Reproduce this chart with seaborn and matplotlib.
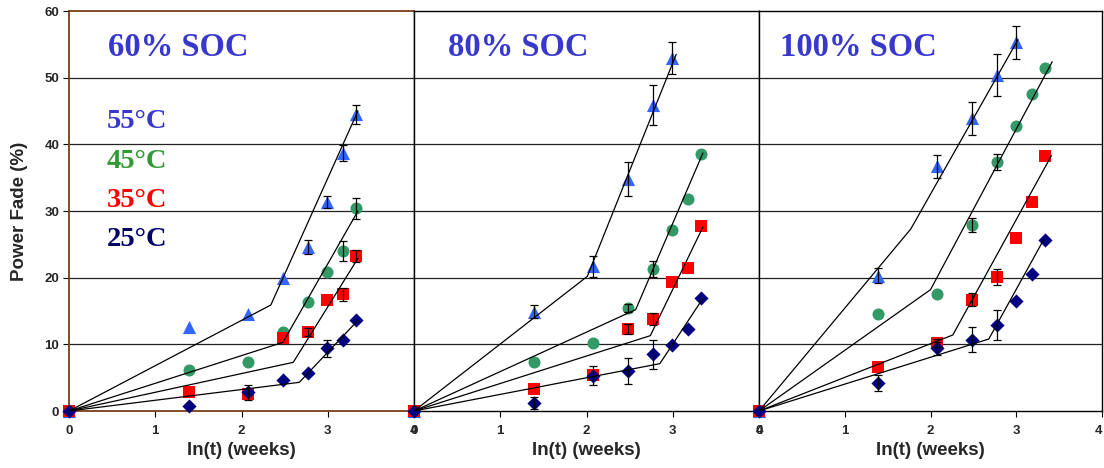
import numpy as np
import pandas as pd
import matplotlib
matplotlib.use("Agg")
import matplotlib.pyplot as plt
import seaborn as sns

# ---------------- data ----------------
LN_T = [0.0, 1.386, 2.079, 2.485, 2.773, 2.996, 3.178, 3.332]
TEMPS = ["55°C", "45°C", "35°C", "25°C"]
SOC_LABELS = ["60% SOC", "80% SOC", "100% SOC"]
X_TICKS = [0, 1, 2, 3, 4]
Y_TICKS = [0, 10, 20, 30, 40, 50, 60]

# measured power fade (%)
FADE_60_55 = [0, 12.6, 14.5, 20.0, 24.6, 31.3, 38.7, 44.5]
FADE_60_45 = [0, 6.1, 7.3, 11.9, 16.4, 20.8, 24.0, 30.4]
FADE_60_35 = [0, 2.8, 2.5, 10.9, 11.8, 16.6, 17.5, 23.2]
FADE_60_25 = [0, 0.8, 2.8, 4.7, 5.7, 9.4, 10.6, 13.6]

FADE_80_55 = [0, 14.9, 21.7, 34.8, 45.9, 52.9]
FADE_80_45 = [0, 7.3, 10.2, 15.5, 21.3, 27.1, 31.8, 38.5]
FADE_80_35 = [0, 3.3, 5.4, 12.3, 13.8, 19.4, 21.5, 27.7]
FADE_80_25 = [0, 1.2, 5.3, 6.0, 8.5, 9.9, 12.3, 16.9]

FADE_100_55 = [0, 20.3, 36.7, 43.9, 50.4, 55.3]
FADE_100_45 = [0, 14.6, 17.6, 27.9, 37.3, 42.8, 47.5, 51.5]
FADE_100_35 = [0, 6.6, 10.2, 16.7, 20.1, 25.9, 31.4, 38.3]
FADE_100_25 = [0, 4.2, 9.4, 10.7, 12.9, 16.5, 20.6, 25.7]

# error bars (+/-, 0 = none)
ERR_60_55 = [0, 0, 0, 0, 1.1, 0.9, 1.2, 1.4]
ERR_60_45 = [0, 0, 0, 0, 0, 0, 1.5, 1.6]
ERR_60_35 = [0, 0, 0, 0, 0.6, 0, 1.0, 0.9]
ERR_60_25 = [0, 0, 1.1, 0, 0, 1.3, 0, 0]

ERR_80_55 = [0, 1.0, 1.6, 2.5, 3.0, 2.4]
ERR_80_45 = [0, 0, 0, 0.6, 1.2, 0, 0, 0]
ERR_80_35 = [0, 0, 0, 0.7, 0.9, 0, 0, 0]
ERR_80_25 = [0, 0.9, 1.4, 1.9, 2.2, 0, 0, 0]

ERR_100_55 = [0, 1.1, 1.7, 2.5, 3.1, 2.5]
ERR_100_45 = [0, 0, 0, 1.0, 1.2, 0, 0, 0]
ERR_100_35 = [0, 0, 0.6, 1.0, 1.2, 0, 0, 0]
ERR_100_25 = [0, 1.2, 1.0, 1.9, 2.3, 0, 0, 0]

# piecewise-linear model fits: (x, y) nodes
FIT_60_55 = ([0, 2.34, 3.35], [0, 15.9, 45.0])
FIT_60_45 = ([0, 2.48, 3.35], [0, 10.3, 30.0])
FIT_60_35 = ([0, 2.60, 3.35], [0, 7.3, 22.9])
FIT_60_25 = ([0, 2.67, 3.35], [0, 4.3, 13.6])

FIT_80_55 = ([0, 2.01, 3.04], [0, 20.2, 53.5])
FIT_80_45 = ([0, 2.57, 3.35], [0, 15.2, 38.7])
FIT_80_35 = ([0, 2.74, 3.35], [0, 11.3, 27.6])
FIT_80_25 = ([0, 2.85, 3.35], [0, 7.1, 16.9])

FIT_100_55 = ([0, 1.77, 3.02], [0, 27.3, 55.7])
FIT_100_45 = ([0, 2.00, 3.42], [0, 18.2, 52.4])
FIT_100_35 = ([0, 2.26, 3.41], [0, 11.4, 38.3])
FIT_100_25 = ([0, 2.68, 3.32], [0, 10.8, 25.7])

PANELS = [
    ([FADE_60_55, FADE_60_45, FADE_60_35, FADE_60_25],
     [ERR_60_55, ERR_60_45, ERR_60_35, ERR_60_25],
     [FIT_60_55, FIT_60_45, FIT_60_35, FIT_60_25]),
    ([FADE_80_55, FADE_80_45, FADE_80_35, FADE_80_25],
     [ERR_80_55, ERR_80_45, ERR_80_35, ERR_80_25],
     [FIT_80_55, FIT_80_45, FIT_80_35, FIT_80_25]),
    ([FADE_100_55, FADE_100_45, FADE_100_35, FADE_100_25],
     [ERR_100_55, ERR_100_45, ERR_100_35, ERR_100_25],
     [FIT_100_55, FIT_100_45, FIT_100_35, FIT_100_25]),
]

# ---------------- style ----------------
MARKER_COLORS = {"55°C": "#3366FF", "45°C": "#339966", "35°C": "#FF0000", "25°C": "#000080"}
TEXT_COLORS = {"55°C": "#3838CC", "45°C": "#339933", "35°C": "#FF0000", "25°C": "#000066"}
MARKERS = {"55°C": "^", "45°C": "o", "35°C": "s", "25°C": "D"}
SIZES = {"55°C": 90, "45°C": 75, "35°C": 78, "25°C": 52}
SOC_COLOR = "#3838CC"
BROWN = "#7A3E18"

sns.set_theme(style="white")
plt.rcParams["font.family"] = ["Liberation Sans", "DejaVu Sans"]

fig = plt.figure(figsize=(11.04, 4.68), dpi=100)
W, H = 1104.0, 468.0
left0, bottom, pw, ph = 69 / W, 1 - 411 / H, 345 / W, 400 / H
widths = [pw, pw, 343 / W]
axes = [fig.add_axes([left0 + i * pw, bottom, widths[i], ph]) for i in range(3)]

SERIF = ["Liberation Serif", "DejaVu Serif"]
soc_x = [0.45, 0.39, 0.25]

for i, (ax, (fades, errs, fits)) in enumerate(zip(axes, PANELS)):
    ax.set_xlim(0, 4)
    ax.set_ylim(0, 60)
    ax.set_facecolor("white")
    for y in Y_TICKS[1:-1]:
        ax.axhline(y, color="#222222", lw=0.9, zorder=0)

    for temp, fade, err, (fx, fy) in zip(TEMPS, fades, errs, fits):
        n = len(fade)
        df = pd.DataFrame({"ln_t": LN_T[:n], "fade": fade, "err": err})
        sns.scatterplot(data=df, x="ln_t", y="fade", marker=MARKERS[temp],
                        color=MARKER_COLORS[temp], s=SIZES[temp], linewidth=0,
                        ax=ax, zorder=3, clip_on=False, legend=False)
        e = df[df["err"] > 0]
        ax.errorbar(e["ln_t"], e["fade"], yerr=e["err"], fmt="none",
                    ecolor="black", elinewidth=0.9, capsize=2.8, capthick=0.9,
                    zorder=4)
        fdf = pd.DataFrame({"x": fx, "y": fy})
        sns.lineplot(data=fdf, x="x", y="y", sort=False, estimator=None,
                     color="black", lw=0.9, ax=ax, zorder=5)

    ax.text(soc_x[i], 54.6, SOC_LABELS[i], color=SOC_COLOR, fontsize=23.5,
            fontweight="bold", family=SERIF, va="center", ha="left")

    ax.set_xticks(X_TICKS)
    ax.set_xticklabels([str(t) for t in X_TICKS], fontsize=9.5, fontweight="bold")
    ax.tick_params(axis="x", bottom=True, length=4, width=0.8, color="black", pad=6)
    ax.set_xlabel("ln(t) (weeks)", fontsize=13.5, fontweight="bold", labelpad=4)
    ax.set_ylabel("")
    if i == 0:
        ax.set_yticks(Y_TICKS)
        ax.set_yticklabels([str(t) for t in Y_TICKS], fontsize=9.5, fontweight="bold")
        ax.tick_params(axis="y", left=True, length=4, width=0.8, color="black", pad=3)
        ax.set_ylabel("Power Fade (%)", fontsize=13.5, fontweight="bold", labelpad=12)
        for s in ax.spines.values():
            s.set_color(BROWN)
            s.set_linewidth(1.3)
        ax.spines["right"].set_color("black")
        ax.spines["right"].set_linewidth(1.0)
    else:
        ax.set_yticks(Y_TICKS)
        ax.set_yticklabels([])
        ax.tick_params(axis="y", left=False)
        for s in ax.spines.values():
            s.set_color("black")
            s.set_linewidth(1.0)
    if i == 2:
        ax.get_xticklabels()[-1].set_horizontalalignment("right")

# temperature legend text in first panel
for temp, y in zip(TEMPS, [43.4, 37.5, 31.6, 25.8]):
    axes[0].text(0.44, y, temp, color=TEXT_COLORS[temp], fontsize=20.5,
                 fontweight="bold", family=SERIF, va="center", ha="left")

fig.savefig("out.png", dpi=100)
